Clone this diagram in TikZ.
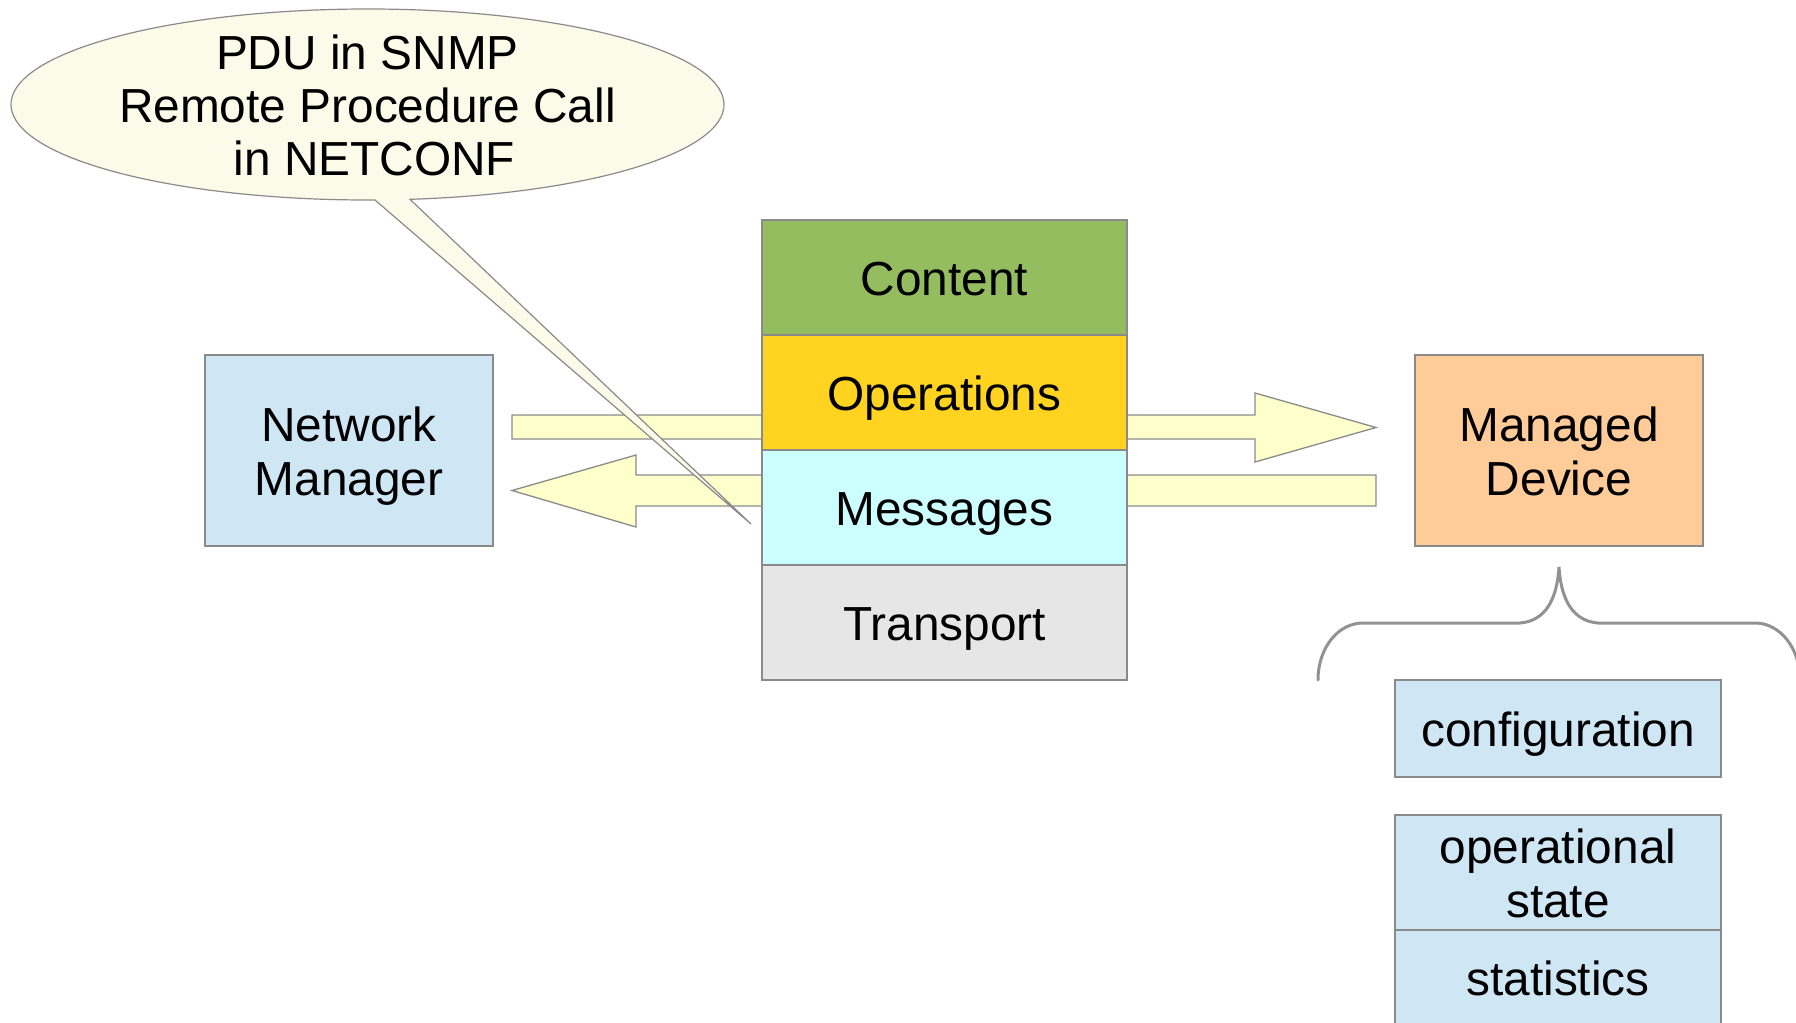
\documentclass[tikz,border=0pt]{standalone}
\usepackage{fontspec}
\setmainfont{Liberation Sans}
\definecolor{nmblue}{HTML}{CFE7F5}
\definecolor{cgreen}{HTML}{93BD5E}
\definecolor{opsyellow}{HTML}{FFD320}
\definecolor{msgcyan}{HTML}{CCFFFF}
\definecolor{transgray}{HTML}{E6E6E6}
\definecolor{devorange}{HTML}{FFCC99}
\definecolor{arrowfill}{HTML}{FFFFCC}
\definecolor{calloutfill}{HTML}{FBFBE9}
\definecolor{edgegray}{HTML}{8A8A8A}
\definecolor{bracegray}{HTML}{929292}
\newcommand\tstrut{\rule[-0.212em]{0pt}{\dimexpr1.117em+1.5pt\relax}}
\newcommand\bstrut{\rule[-0.212em]{0pt}{0pt}}
\tikzset{
  lbl/.style={font=\fontsize{23.9}{26.7}\selectfont, align=center, inner sep=0pt},
  box/.style={draw=edgegray, line width=0.65pt, lbl},
  blockarrow/.style={draw=edgegray, line width=0.65pt, fill=arrowfill, line join=miter},
  calloutshape/.style={draw=edgegray, line width=0.6pt, fill=calloutfill, line join=miter},
  bracestyle/.style={draw=bracegray, line width=1.5pt, line cap=round}
}
\begin{document}
\begin{tikzpicture}[x=0.5pt,y=-0.5pt]
\useasboundingbox (0,0) rectangle (1796,1023);
% block arrows
\coordinate (rs) at (512,415);
\coordinate (rtip) at (1376,427.5);
\coordinate (ls) at (1376,475);
\coordinate (ltip) at (512,490.5);
\draw[blockarrow] (rs) -- (1255,415) -- (1255,393) -- (rtip) -- (1255,462) -- (1255,439) -- (512,439) -- cycle;
\draw[blockarrow] (ls) -- (636,475) -- (636,455) -- (ltip) -- (636,527) -- (636,506) -- (1376,506) -- cycle;
% callout
\coordinate (cc) at (367.5,104.5);
\coordinate (ctip) at (751,524);
\draw[calloutshape] (cc) ++(83.15:356.5 and 95.5) arc[start angle=83.15, end angle=-271.2, x radius=356.5, y radius=95.5] -- (ctip) -- cycle;
\node[lbl] (ctext) at (cc) {\tstrut PDU in SNMP\\Remote Procedure Call\\\hspace*{7pt}in NETCONF\bstrut};
% protocol stack
\node[box, fill=cgreen, minimum width=182.5pt, minimum height=57.5pt] (content) at (944.5,277.5) {\tstrut Content};
\node[box, fill=opsyellow, minimum width=182.5pt, minimum height=57.5pt] (ops) at (944.5,392.5) {\tstrut Operations};
\node[box, fill=msgcyan, minimum width=182.5pt, minimum height=57.5pt] (msgs) at (944.5,507.5) {\tstrut Messages};
\node[box, fill=transgray, minimum width=182.5pt, minimum height=57.5pt] (trans) at (944.5,622.5) {\tstrut Transport};
% end points
\node[box, fill=nmblue, minimum width=144pt, minimum height=95.5pt] (nm) at (349,450.5) {\tstrut Network\\Manager\bstrut};
\node[box, fill=devorange, minimum width=144pt, minimum height=95.5pt] (md) at (1559,450.5) {\tstrut Managed\\Device\bstrut};
% brace
\coordinate (btip) at (1559,567);
\draw[bracestyle] (1318,680) .. controls (1318,648) and (1338,623) .. (1363,623) -- (1520,623) .. controls (1545,621) and (1557,600) .. (btip) .. controls (1561,600) and (1573,621) .. (1598,623) -- (1755,623) .. controls (1780,623) and (1800,648) .. (1800,680);
% data stores
\node[box, fill=nmblue, minimum width=163pt, minimum height=48.5pt] (config) at (1558,728.5) {\tstrut configuration};
\node[box, fill=nmblue, minimum width=163pt, minimum height=57.5pt] (opstate) at (1558,872.5) {\tstrut operational\\state\bstrut};
\node[box, fill=nmblue, minimum width=163pt, minimum height=47.5pt] (stats) at (1558,977.5) {\tstrut statistics};
\end{tikzpicture}
\end{document}
